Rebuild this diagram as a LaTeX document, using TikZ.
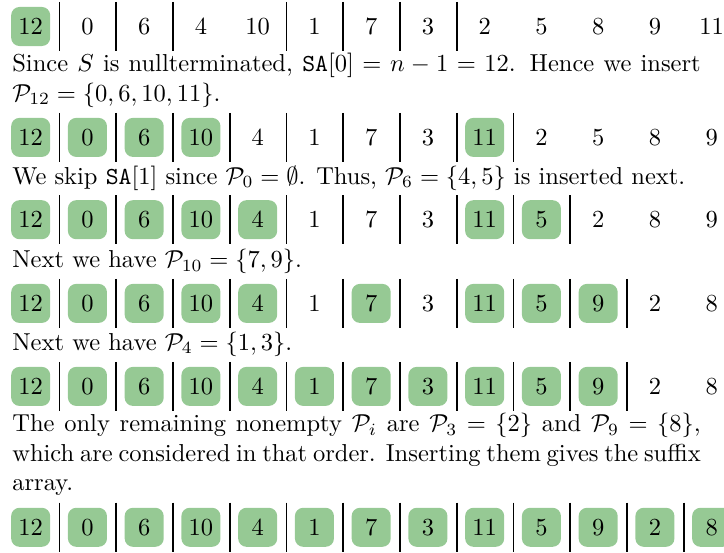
\documentclass[tikz,border=0pt]{standalone}
\usetikzlibrary{positioning}
\setlength{\parindent}{0pt}

\definecolor{donegreen}{RGB}{150,201,148}

% one row of the array: #1 name, #2 height, #3 list value/inserted/bar
\newcommand{\sarow}[3]{%
  \foreach \v/\f/\b [count=\i from 0] in {#3} {
    \node[slot] (#1-\i) at ({0.44+0.8136*\i}, #2) {};
    \node[val\f] (#1-v\i) at (#1-\i) {\v};
    \ifnum\b=1 \draw[sep] (#1-\i.north east) -- (#1-\i.south east); \fi
  }}

\begin{document}
\begin{tikzpicture}[
  slot/.style={minimum width=0.8136cm, minimum height=0.69cm, inner sep=0pt},
  val0/.style={inner sep=0pt, minimum size=0.56cm},
  val1/.style={val0, fill=donegreen, rounded corners=0.12cm},
  sep/.style={line width=0.75pt},
  txt/.style={text width=9.87cm, align=justify, inner sep=0pt, anchor=base west},
]
\useasboundingbox (0,0) rectangle (10.38,-7.92);

% Start: only SA[0] is known
\sarow{ra}{-0.38}{12/1/1, 0/0/1, 6/0/1, 4/0/0, 10/0/1, 1/0/1, 7/0/1, 3/0/1,
  2/0/0, 5/0/0, 8/0/0, 9/0/0, 11/0/0}
\node[txt] (ta) at (0.17,-1.03) {Since $S$ is nullterminated, \texttt{SA}$[0] = n-1 = 12$.
  Hence we insert $\mathcal{P}_{12} = \{0,6,10,11\}$.};

% After P_12
\sarow{rb}{-1.97}{12/1/1, 0/1/1, 6/1/1, 10/1/1, 4/0/1, 1/0/1, 7/0/1, 3/0/1,
  11/1/1, 2/0/0, 5/0/0, 8/0/0, 9/0/0}
\node[txt] (tb) at (0.17,-2.64) {We skip \texttt{SA}$[1]$ since $\mathcal{P}_0 = \emptyset$.
  Thus, $\mathcal{P}_6 = \{4,5\}$ is inserted next.};

% After P_6
\sarow{rc}{-3.15}{12/1/1, 0/1/1, 6/1/1, 10/1/1, 4/1/1, 1/0/1, 7/0/1, 3/0/1,
  11/1/1, 5/1/1, 2/0/0, 8/0/0, 9/0/0}
\node[txt] (tc) at (0.17,-3.84) {Next we have $\mathcal{P}_{10} = \{7,9\}$.};

% After P_10
\sarow{rd}{-4.35}{12/1/1, 0/1/1, 6/1/1, 10/1/1, 4/1/1, 1/0/1, 7/1/1, 3/0/1,
  11/1/1, 5/1/1, 9/1/1, 2/0/0, 8/0/0}
\node[txt] (td) at (0.17,-5.02) {Next we have $\mathcal{P}_4 = \{1,3\}$.};

% After P_4
\sarow{re}{-5.54}{12/1/1, 0/1/1, 6/1/1, 10/1/1, 4/1/1, 1/1/1, 7/1/1, 3/1/1,
  11/1/1, 5/1/1, 9/1/1, 2/0/0, 8/0/0}
\node[txt] (te) at (0.17,-6.19) {The only remaining nonempty $\mathcal{P}_i$ are
  $\mathcal{P}_3 = \{2\}$ and $\mathcal{P}_9 = \{8\}$, which are considered in that
  order. Inserting them gives the suffix array.};

% Final suffix array
\sarow{rf}{-7.56}{12/1/1, 0/1/1, 6/1/1, 10/1/1, 4/1/1, 1/1/1, 7/1/1, 3/1/1,
  11/1/1, 5/1/1, 9/1/1, 2/1/1, 8/1/0}

\end{tikzpicture}
\end{document}
